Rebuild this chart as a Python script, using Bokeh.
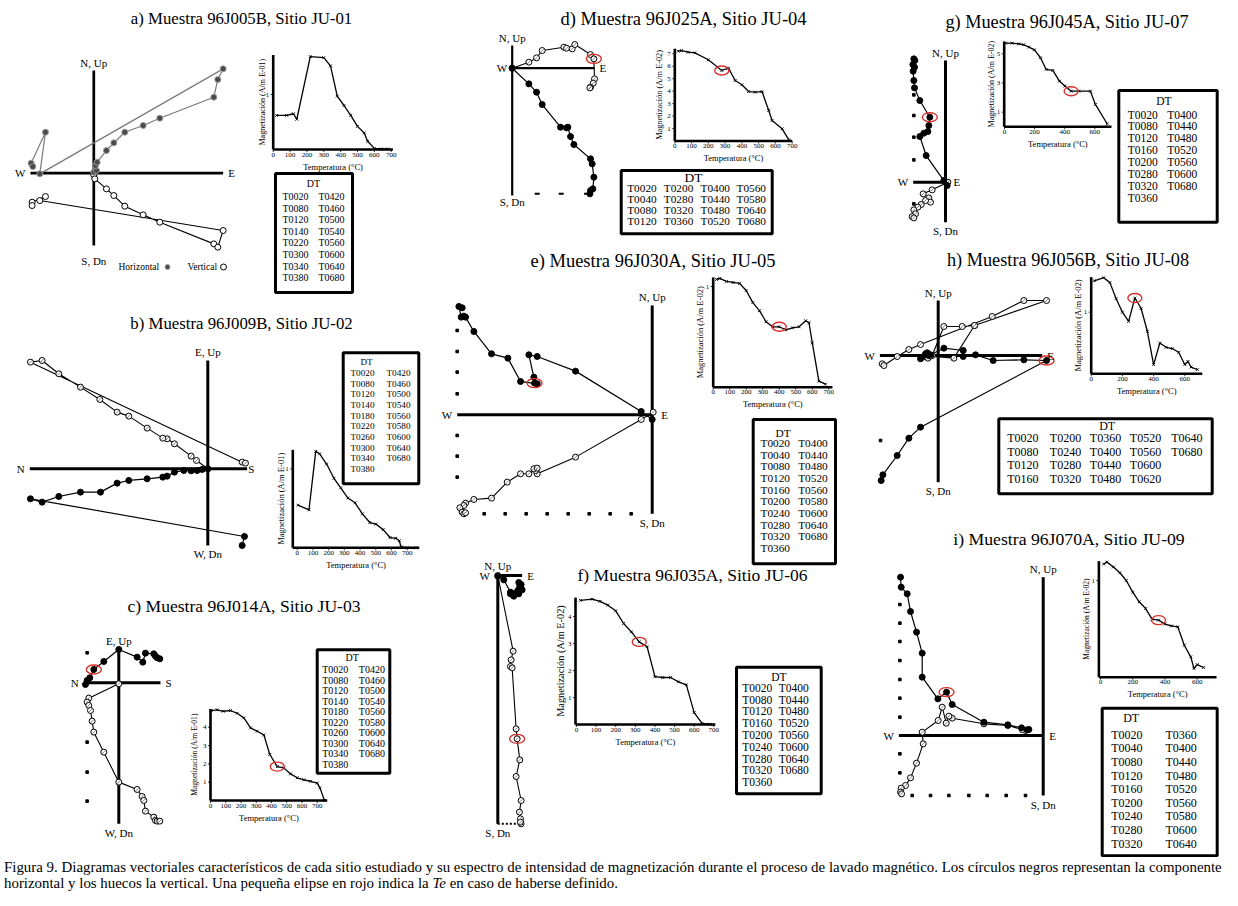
import math
from bokeh.plotting import figure
from bokeh.models import Range1d, Div
from bokeh.layouts import column
from bokeh.core.properties import value
from bokeh.embed import file_html
from bokeh.resources import INLINE

SERIF = "Liberation Serif"
RED = "#d8312b"

# ============================ DATA ============================
TITLES = {
    "a": "a) Muestra 96J005B, Sitio JU-01",
    "b": "b) Muestra 96J009B, Sitio JU-02",
    "c": "c) Muestra 96J014A, Sitio JU-03",
    "d": "d) Muestra 96J025A, Sitio JU-04",
    "e": "e) Muestra 96J030A, Sitio JU-05",
    "f": "f) Muestra 96J035A, Sitio JU-06",
    "g": "g) Muestra 96J045A, Sitio JU-07",
    "h": "h) Muestra 96J056B, Sitio JU-08",
    "i": "i) Muestra 96J070A, Sitio JU-09",
}

# demagnetisation steps (DT tables)
DT_A = [20, 80, 120, 140, 220, 300, 340, 380, 420, 460, 500, 540, 560, 600, 640, 680]
DT_B = [20, 80, 120, 140, 180, 220, 260, 300, 340, 380, 420, 460, 500, 540, 560, 580, 600, 640, 680]
DT_C = [20, 80, 120, 140, 180, 220, 260, 300, 340, 380, 420, 460, 500, 540, 560, 580, 600, 640, 680]
DT_D = [20, 40, 80, 120, 200, 280, 320, 360, 400, 440, 480, 520, 560, 580, 640, 680]
DT_E = [20, 40, 80, 120, 160, 200, 240, 280, 320, 360, 400, 440, 480, 520, 560, 580, 600, 640, 680]
DT_F = [20, 80, 120, 160, 200, 240, 280, 320, 360, 400, 440, 480, 520, 560, 600, 640, 680]
DT_G = [20, 80, 120, 160, 200, 280, 320, 360, 400, 440, 480, 520, 560, 600, 680]
DT_H = [20, 80, 120, 160, 200, 240, 280, 320, 360, 400, 440, 480, 520, 560, 600, 620, 640, 680]
DT_I = [20, 40, 80, 120, 160, 200, 240, 280, 320, 360, 400, 440, 480, 520, 560, 580, 600, 640]

# magnetisation intensity curves (temperature degC, intensity)
MT_A = DT_A
MM_A = [0.62, 0.62, 0.65, 0.55, 1.69, 1.67, 1.52, 0.97, 0.80, 0.62, 0.42, 0.30, 0.15, 0.02, 0.01, 0.01]
MT_B = [5, 75, 118, 143, 187, 234, 277, 323, 368, 415, 462, 500, 547, 591, 628, 649, 662, 702, 755]
MM_B = [0.54, 0.48, 1.22, 1.19, 1.06, 0.88, 0.76, 0.63, 0.57, 0.43, 0.32, 0.30, 0.23, 0.13, 0.12, 0.09, 0.01, 0.0, 0.0]
MT_C = [4, 44, 83, 131, 175, 219, 263, 306, 350, 389, 438, 481, 525, 569, 613, 656, 700, 718, 748]
MM_C = [4.91, 4.95, 4.87, 4.91, 4.76, 4.51, 3.96, 3.78, 3.58, 2.51, 1.85, 1.78, 1.45, 1.24, 1.13, 1.05, 0.95, 0.69, 0.0]
MT_D = DT_D
MM_D = [7.21, 7.26, 7.13, 7.08, 6.52, 5.66, 5.85, 4.86, 4.51, 3.97, 3.92, 3.97, 2.45, 1.65, 0.98, 0.09]
MT_E = DT_E
MM_E = [1.07, 1.08, 1.05, 1.04, 1.03, 0.96, 0.84, 0.76, 0.65, 0.60, 0.60, 0.57, 0.59, 0.60, 0.66, 0.64, 0.44, 0.06, 0.03]
MT_F = DT_F
MM_F = [4.60, 4.64, 4.56, 4.42, 4.21, 3.74, 3.43, 3.06, 2.88, 1.77, 1.74, 1.74, 1.58, 1.47, 0.44, 0.04, 0.01]
MT_G = [7, 51, 95, 128, 162, 199, 239, 277, 321, 365, 401, 443, 494, 571, 604, 682]
MM_G = [5.73, 5.73, 5.68, 5.62, 5.46, 5.27, 4.73, 3.93, 3.86, 3.13, 2.79, 2.44, 2.44, 2.44, 1.53, 0.21]
MT_H = DT_H
MM_H = [1.51, 1.56, 1.48, 1.22, 1.00, 0.85, 1.23, 1.06, 0.69, 0.15, 0.50, 0.43, 0.41, 0.35, 0.15, 0.20, 0.11, 0.07]
MT_I = DT_I
MM_I = [1.17, 1.19, 1.14, 1.08, 1.00, 0.88, 0.78, 0.71, 0.60, 0.59, 0.55, 0.53, 0.52, 0.33, 0.21, 0.09, 0.13, 0.10]
# index of the Te step on each intensity curve (None = not defined)
MTE = {"a": None, "b": None, "c": 10, "d": 5, "e": 10, "f": 7, "g": 11, "h": 6, "i": 9}

# vector (Zijderveld) end-points, arbitrary units; H = horizontal (filled), V = vertical (open)
ZHX_A = [0, 8, 5, 10, 38, 60, 93, 148, 198, 360, 372, 388, -162, -145, -188, -183]
ZHY_A = [3, 8, 23, 33, 68, 91, 123, 143, 165, 228, 281, 313, -2, 123, 30, 20]
ZVX_A = [0, 3, 38, 60, 93, 148, 198, 360, 372, 388, -162, -145, -185, -185]
ZVY_A = [-5, -17, -47, -67, -99, -125, -147, -212, -222, -172, -82, -70, -87, -97]

ZHX_B = [0, -17, -32, -50, -72, -100, -122, -135, -182, -237, -272, -322, -382, -447, -497, -532, 110, 103]
ZHY_B = [0, -2, -5, -6, -5, -10, -22, -25, -30, -35, -43, -70, -70, -83, -100, -90, -203, -230]
ZVX_B = [0, -34, -50, -100, -122, -135, -182, -237, -272, -324, -382, -447, -497, -532, 103, 113]
ZVY_B = [0, 25, 38, 75, 90, 92, 122, 158, 170, 208, 245, 285, 325, 320, 20, 17]

ZHX_C = [-100, -95, -87, -75, -45, 0, 55, 72, 80, 105, 110, 115, 123]
ZHY_C = [-5, 7, 15, 40, 64, 100, 77, 62, 89, 87, 80, 75, 72]
ZVX_C = [0, -90, -95, -90, -85, -80, -75, -45, 0, 55, 70, 75, 80, 105, 110, 115, 123]
ZVY_C = [-3, -46, -58, -68, -83, -115, -148, -208, -298, -320, -341, -353, -385, -403, -413, -415, -415]

ZHX_D = [0, 50, 73, 90, 145, 163, 167, 175, 185, 235, 240, 245, 242, 235, 233]
ZHY_D = [0, -47, -72, -109, -177, -179, -177, -205, -229, -272, -287, -327, -362, -367, -377]
ZVX_D = [0, 50, 73, 90, 155, 163, 180, 188, 235, 245, 247, 243, 235, 233]
ZVY_D = [0, 18, 31, 53, 63, 60, 58, 71, 41, 28, -32, -45, -57, -59]

ZHX_E = [0, -33, -230, -345, -370, -355, -353, -345, -395, -433, -482, -535, -560, -565, -573, -580, -570]
ZHY_E = [-14, 10, 131, 175, 180, 113, 95, 93, 100, 170, 183, 250, 293, 296, 293, 325, 321]
ZVX_E = [3, -33, -230, -345, -350, -355, -345, -370, -395, -435, -482, -535, -560, -565, -577, -570, -565, -560]
ZVY_E = [8, -14, -127, -177, -167, -162, -160, -177, -177, -202, -250, -254, -265, -272, -279, -292, -297, -294]

ZHX_F = [0, 18, 38, 46, 53, 60, 66, 63, 70, 73, 63, 48, 38]
ZHY_F = [-2, -13, -50, -58, -53, -45, -33, -21, -27, -43, -55, -62, -55]
ZVX_F = [0, 46, 40, 38, 43, 55, 58, 66, 55, 70, 65, 68, 70, 68]
ZVY_F = [0, -227, -253, -273, -277, -460, -490, -553, -603, -675, -710, -730, -745, -740]

ZHX_G = [5, -5, -58, -77, -65, -53, -50, -47, -77, -93, -95, -97, -93, -98, -92, -95]
ZHY_G = [-10, 5, 80, 137, 147, 152, 170, 195, 245, 283, 305, 333, 345, 353, 365, 370]
ZVX_G = [7, -40, -67, -50, -45, -60, -73, -83, -95, -90, -100, -95]
ZVY_G = [0, -23, -35, -47, -60, -55, -67, -75, -83, -95, -103, -107]

ZHX_H = [-53, -48, -38, -33, -28, -23, 17, 75, 75, 112, 165, 257, 325, -53, -88, -123, -166, -171]
ZHY_H = [-10, -5, 5, 8, 0, 2, 22, 15, -3, 2, -15, -13, -15, -215, -248, -300, -358, -375]
ZVX_H = [-168, -163, -123, -88, -53, 162, 257, 325, 109, 72, 17, -18, -31, -23, 47, 109]
ZVY_H = [-25, -30, -3, 18, 33, 117, 165, 165, 90, 87, 87, 0, -8, -2, -8, 90]

ZHX_I = [-43, -48, -65, -106, -178, -273, -290, -316, -363, -363, -380, -398, -408, -426, -428]
ZHY_I = [18, 17, 23, 32, 40, 93, 130, 110, 175, 247, 310, 372, 425, 445, 475]
ZVX_I = [-53, -63, -106, -178, -273, -283, -291, -303, -315, -363, -360, -380, -398, -413, -426, -428, -425]
ZVY_I = [15, 18, 30, 35, 52, 58, 37, 85, 45, 10, -25, -83, -127, -150, -158, -170, -175]
# Te step on the vector diagrams: (projection, index)
ZTE = {"a": None, "b": None, "c": ("h", 3), "d": ("v", 9), "e": ("h", 6),
       "f": ("v", 6), "g": ("h", 7), "h": ("h", 12), "i": ("h", 6)}

# axis tick labels of the intensity plots
XT_100 = [0, 100, 200, 300, 400, 500, 600, 700]
XT_200 = [0, 200, 400, 600]
YT = {"a": [1], "b": [1], "c": [1, 2, 3, 4], "d": [1, 2, 3, 4, 5, 6, 7], "e": [1],
      "f": [1, 2, 3, 4], "g": [1, 3, 5], "h": [1], "i": [1]}
UNITS = {"a": "E-01", "b": "E-01", "c": "E-01", "d": "E-02", "e": "E-02",
         "f": "E-02", "g": "E-02", "h": "E-02", "i": "E-02"}

CAPTION_1 = ("Figura 9. Diagramas vectoriales característicos de cada sitio estudiado y su espectro de "
             "intensidad de magnetización durante el proceso de lavado magnético. Los círculos negros "
             "representan la componente")
CAPTION_2A = "horizontal y los huecos la vertical. Una pequeña elipse en rojo indica la "
CAPTION_2B = "Te"
CAPTION_2C = " en caso de haberse definido."

ZIJ = {
    "a": dict(hx=ZHX_A, hy=ZHY_A, vx=ZVX_A, vy=ZVY_A),
    "b": dict(hx=ZHX_B, hy=ZHY_B, vx=ZVX_B, vy=ZVY_B),
    "c": dict(hx=ZHX_C, hy=ZHY_C, vx=ZVX_C, vy=ZVY_C),
    "d": dict(hx=ZHX_D, hy=ZHY_D, vx=ZVX_D, vy=ZVY_D),
    "e": dict(hx=ZHX_E, hy=ZHY_E, vx=ZVX_E, vy=ZVY_E),
    "f": dict(hx=ZHX_F, hy=ZHY_F, vx=ZVX_F, vy=ZVY_F),
    "g": dict(hx=ZHX_G, hy=ZHY_G, vx=ZVX_G, vy=ZVY_G),
    "h": dict(hx=ZHX_H, hy=ZHY_H, vx=ZVX_H, vy=ZVY_H),
    "i": dict(hx=ZHX_I, hy=ZHY_I, vx=ZVX_I, vy=ZVY_I),
}
MAG = {"a": (MT_A, MM_A), "b": (MT_B, MM_B), "c": (MT_C, MM_C), "d": (MT_D, MM_D),
       "e": (MT_E, MM_E), "f": (MT_F, MM_F), "g": (MT_G, MM_G), "h": (MT_H, MM_H),
       "i": (MT_I, MM_I)}
DT = {"a": DT_A, "b": DT_B, "c": DT_C, "d": DT_D, "e": DT_E, "f": DT_F, "g": DT_G,
      "h": DT_H, "i": DT_I}

# ============================ LAYOUT (page pixels) ============================
W, H = 1230, 857
X0, Y0 = 0, 0          # page coords == reference image coords

TITLE_POS = {"a": (241, 18, 16.8), "b": (241, 323, 16.8), "c": (243.5, 605, 17.6),
             "d": (683, 18, 18.5), "e": (652.5, 260, 18.5), "f": (692, 574, 17.5),
             "g": (1066.5, 21, 18.3), "h": (1067.5, 259, 18.3), "i": (1068.5, 538, 17.7)}

ZIJ_LAYOUT = {
    "a": dict(origin=(93.3, 172.7), hx=(-190, 388), vy=(-217, 308),
              labels=("N, Up", "S, Dn", "W", "E"), aw=2.7, boff=9, gray=True),
    "b": dict(origin=(207.3, 468.3), hx=(-534, 118), vy=(-230, 325),
              labels=("E, Up", "W, Dn", "N", "S"), roff=1),
    "c": dict(origin=(118.3, 682.3), hx=(-105, 125), vy=(-423, 102),
              labels=("E, Up", "W, Dn", "N", "S"),
              dots=([-95, -95, -95, -95], [90, -178, -268, -355])),
    "d": dict(origin=(511.7, 67.7), hx=(0, 247), vy=(-382, 68), aw=2.2,
              labels=("N, Up", "S, Dn", "W", "E"), boff=0,
              dashes=([75, 147, 223], [-377, -377, -377])),
    "e": dict(origin=(651.7, 414.3), hx=(-585, 3), vy=(-297, 328),
              labels=("N, Up", "S, Dn", "W", "E"), roff=8,
              dots=([-585] * 7 + [-63, -126, -189, -252, -315, -378, -441, -504, -567],
                    [253, 190, 128, 63, -62, -124, -187] + [-297] * 9)),
    "f": dict(origin=(497.3, 575.0), hx=(0, 73), vy=(-745, 0),
              labels=("N, Up", "S, Dn", "W", "E"), loff=-8, toff=-4,
              dotted=((0, -745), (70, -745))),
    "g": dict(origin=(945.0, 181.7), hx=(-97, 0), vy=(-120, 365),
              labels=("N, Up", "S, Dn", "W", "E"), roff=8,
              dots=([-95] * 5, [262, 200, 135, 67, -65])),
    "h": dict(origin=(937.7, 355.0), hx=(-175, 312), vy=(-380, 165),
              labels=("N, Up", "S, Dn", "W", "E"),
              dots=([-173], [-255])),
    "i": dict(origin=(1042.7, 735.0), hx=(-433, 0), vy=(-180, 475),
              labels=("N, Up", "S, Dn", "W", "E"), roff=6,
              dots=([-430] * 9 + [-393, -338, -283, -223, -168, -111, -53],
                    [393, 337, 282, 225, 168, 112, 55, -55, -112] + [-180] * 7)),
}

MAG_LAYOUT = {
    "a": dict(tmap=((0, 272.7), (700, 390.7)), mmap=((0, 149.0), (1, 94.0)), xlim=(0, 710),
              ytop=1.72, xt=XT_100, yoff=-11, yfs=8.0),
    "b": dict(tmap=((0, 296.7), (700, 406.7)), mmap=((0, 547.3), (1, 468.3)), xlim=(-28, 777),
              ytop=1.24, xt=XT_100, yoff=-12, yfs=8.5),
    "c": dict(tmap=((0, 210.0), (700, 316.7)), mmap=((0, 800.0), (4, 726.7)), xlim=(0, 766),
              ytop=5.0, xt=XT_100, yoff=-16, yfs=7.6),
    "d": dict(tmap=((0, 674.3), (700, 791.7)), mmap=((0, 140.5), (7, 53.3)), xlim=(0, 700),
              ytop=7.4, xt=XT_100, yoff=-15, yfs=8.3),
    "e": dict(tmap=((0, 712.7), (700, 828.3)), mmap=((0, 386.7), (1, 286.0)), xlim=(0, 722),
              ytop=1.09, xt=XT_100, yoff=-13, yfs=8.5),
    "f": dict(tmap=((0, 576.0), (700, 713.3)), mmap=((0, 724.0), (4, 616.0)), xlim=(-5, 708),
              ytop=4.7, xt=XT_100, yoff=-15, yfs=10.3),
    "g": dict(tmap=((0, 1004.0), (600, 1094.3)), mmap=((0, 126.3), (5, 53.3)), xlim=(-2, 711),
              ytop=5.84, xt=XT_200, yoff=-13, yfs=8.0),
    "h": dict(tmap=((0, 1090.7), (600, 1184.3)), mmap=((0, 373.3), (1, 311.7)), xlim=(0, 712),
              ytop=1.57, xt=XT_200, yoff=-13, yfs=8.5),
    "i": dict(tmap=((0, 1100.0), (600, 1196.7)), mmap=((0, 676.7), (1, 580.0)), xlim=(-10, 720),
              ytop=1.2, xt=XT_200, yoff=-12, yfs=7.5),
}

TABLE_LAYOUT = {
    "a": dict(box=(275, 352, 173, 292), dt=(313, 183), row0=196, dy=11.6, cols=[282, 318], nrows=8, fs=10),
    "b": dict(box=(342.7, 418.3, 352.3, 483.3), dt=(366, 361.7), row0=372.3, dy=10.7, cols=[350, 386], nrows=10, fs=9.2),
    "c": dict(box=(316.7, 389.3, 649.3, 772.7), dt=(351.7, 656.7), row0=669, dy=10.5, cols=[321.7, 358.3], nrows=10, fs=10),
    "d": dict(box=(620.7, 771.7, 170, 233.3), dt=(693, 176.7), row0=187.3, dy=10.9,
              cols=[626.7, 663.3, 700, 736], nrows=4, fs=11.3, dtfs=13.5),
    "e": dict(box=(752.7, 835, 419, 563.3), dt=(782.5, 432.7), row0=442.3, dy=11.7, cols=[760, 797.7], nrows=10, fs=11.3),
    "f": dict(box=(736, 820.7, 666.7, 793.3), dt=(778.3, 676.7), row0=687.3, dy=11.8, cols=[741.7, 778.3], nrows=9, fs=11.5),
    "g": dict(box=(1118.3, 1216.7, 90, 221.7), dt=(1163.3, 100), row0=114, dy=11.9, cols=[1127.3, 1166.7], nrows=8, fs=11.5),
    "h": dict(box=(998.3, 1211.7, 418.3, 493.3), dt=(1106.7, 425), row0=437.7, dy=13.5,
              cols=[1006.7, 1049.3, 1089.3, 1129.3, 1170.7], nrows=4, fs=12),
    "i": dict(box=(1101.7, 1216.7, 707.7, 855.3), dt=(1130.7, 717.7), row0=734.3, dy=13.6, cols=[1110.7, 1165], nrows=9, fs=12),
}

LEGEND_A = dict(y=266.5, htext=118, hmark=167, vtext=187, vmark=223, fs=9.5)

# ============================ DRAWING ============================
p = figure(width=W, height=H, x_range=Range1d(X0, X0 + W), y_range=Range1d(Y0 + H, Y0),
           output_backend="svg", toolbar_location=None, x_axis_location=None,
           y_axis_location=None, min_border=0)
p.grid.visible = False
p.outline_line_color = None
p.background_fill_color = "white"
p.border_fill_color = "white"

XR, YR = {}, {}


def scales(name, xa, xb, ya, yb):
    """Sub-plot scale: data value xa[0] lands on page x xa[1], etc."""
    kx = (xb[1] - xa[1]) / (xb[0] - xa[0])
    ky = (ya[1] - yb[1]) / (yb[0] - ya[0])
    XR[name] = Range1d(start=xa[0] + (X0 - xa[1]) / kx, end=xa[0] + (X0 + W - xa[1]) / kx)
    YR[name] = Range1d(start=ya[0] - (Y0 + H - ya[1]) / ky, end=ya[0] + (ya[1] - Y0) / ky)
    return kx, ky, dict(x_range_name=name, y_range_name=name)


def txt(xs, ys, texts, size, align="center", baseline="middle", kw=None, **extra):
    p.text(x=xs, y=ys, text=texts, text_font=value(SERIF), text_font_size=f"{size}px",
           text_align=align, text_baseline=baseline, text_color="black", **(kw or {}), **extra)


def draw_zij(key):
    L, D = ZIJ_LAYOUT[key], ZIJ[key]
    ox, oy = L["origin"]
    kx, ky, kw = scales("z" + key, (0, ox), (3, ox + 1), (0, oy), (3, oy - 1))
    hx0, hx1 = L["hx"]
    vy0, vy1 = L["vy"]
    p.segment(x0=[hx0, 0], y0=[0, vy0], x1=[hx1, 0], y1=[0, vy1], line_color="black",
              line_width=L.get("aw", 3.0), line_cap="butt", **kw)
    if "dots" in L:
        p.scatter(x=L["dots"][0], y=L["dots"][1], marker="square", size=2.6, color="black", **kw)
    if "dashes" in L:
        p.scatter(x=L["dashes"][0], y=L["dashes"][1], marker="dash", size=5, line_width=2,
                  color="black", **kw)
    if "dotted" in L:
        (a0, b0), (a1, b1) = L["dotted"]
        p.segment(x0=[a0], y0=[b0], x1=[a1], y1=[b1], line_dash="2 2", line_width=2,
                  line_color="black", **kw)
    gray = L.get("gray", False)
    p.line(D["vx"], D["vy"], line_color="black", line_width=1.1, **kw)
    p.line(D["hx"], D["hy"], line_color="#7a7a7a" if gray else "black", line_width=1.2, **kw)
    p.scatter(D["vx"], D["vy"], marker="circle", size=6, fill_color="white",
              line_color="black", line_width=1, **kw)
    if not gray:
        # the hollow symbols of the original carry a small diagonal stroke
        p.scatter(D["vx"], D["vy"], marker="dash", angle=math.pi / 4, size=5,
                  line_color="#555555", line_width=0.7, **kw)
    p.scatter(D["hx"], D["hy"], marker="circle", size=6,
              fill_color="#4a4a4a" if gray else "black",
              line_color="#9a9a9a" if gray else "black", line_width=1, **kw)
    te = ZTE[key]
    if te is not None:
        comp, idx = te
        p.ellipse(x=[D[comp + "x"][idx]], y=[D[comp + "y"][idx]], width=15, height=9,
                  width_units="screen", height_units="screen", fill_color=None,
                  line_color=RED, line_width=1.4, **kw)
    top, bottom, left, right = L["labels"]
    fs = 11
    txt([0], [vy1], [top], fs, "center", "bottom", kw, y_offset=L.get("toff", -2))
    txt([0], [vy0], [bottom], fs, "center", "top", kw, y_offset=L.get("boff", 3))
    txt([hx0], [0], [left], fs, "right", "middle", kw, x_offset=L.get("loff", -5))
    txt([hx1], [0], [right], fs, "left", "middle", kw, x_offset=L.get("roff", 5))


def draw_mag(key):
    L = MAG_LAYOUT[key]
    T, M = MAG[key]
    kx, ky, kw = scales("m" + key, L["tmap"][0], L["tmap"][1], L["mmap"][0], L["mmap"][1])
    xa, xb = L["xlim"]
    yt = L["ytop"]
    yticks, xticks = YT[key], L["xt"]
    p.segment(x0=[xa, xa], y0=[0, 0], x1=[xb, xa], y1=[0, yt], line_color="black",
              line_width=2.6, line_cap="butt", **kw)
    tl = 2.5
    p.segment(x0=[xa - tl / kx] * len(yticks), y0=yticks, x1=[xa] * len(yticks), y1=yticks,
              line_color="black", line_width=0.8, **kw)
    p.segment(x0=xticks, y0=[0] * len(xticks), x1=xticks, y1=[-tl / ky] * len(xticks),
              line_color="black", line_width=0.8, **kw)
    txt([xa] * len(yticks), yticks, [str(v) for v in yticks], 7, "right", "middle", kw, x_offset=-4)
    txt(xticks, [0] * len(xticks), [str(v) for v in xticks], 7, "center", "top", kw, y_offset=3)
    txt([(xa + xb) / 2], [0], ["Temperatura (°C)"], 8.5, "center", "top", kw, y_offset=12)
    txt([xa], [yt / 2], [f"Magnetización (A/m {UNITS[key]})"], L["yfs"], "center", "middle", kw,
        x_offset=L["yoff"], angle=math.pi / 2)
    p.line(T, M, line_color="black", line_width=1.3, **kw)
    p.scatter(T, M, marker="x", size=4, line_color="black", line_width=0.9, **kw)
    idx = MTE[key]
    if idx is not None:
        p.ellipse(x=[T[idx]], y=[M[idx]], width=14, height=9, width_units="screen",
                  height_units="screen", fill_color=None, line_color=RED, line_width=1.4, **kw)


def draw_table(key):
    L = TABLE_LAYOUT[key]
    labels = ["T%04d" % t for t in DT[key]]
    n = L["nrows"]
    xs, ys, tx = [], [], []
    for i, lab in enumerate(labels):
        xs.append(L["cols"][i // n])
        ys.append(L["row0"] + (i % n) * L["dy"])
        tx.append(lab)
    txt(xs, ys, tx, L["fs"], "left", "middle")
    txt([L["dt"][0]], [L["dt"][1]], ["DT"], L.get("dtfs", L["fs"]), "center", "middle")
    l, r, t, b = L["box"]
    p.quad(left=[l], right=[r], top=[t], bottom=[b], fill_color=None, line_color="black",
           line_width=3)


for k in "abcdefghi":
    cx, cy, fs = TITLE_POS[k]
    txt([cx], [cy], [TITLES[k]], fs, "center", "middle")
    draw_zij(k)
    draw_mag(k)
    draw_table(k)

# legend of panel a
Lg = LEGEND_A
txt([Lg["htext"]], [Lg["y"]], ["Horizontal"], Lg["fs"], "left", "middle")
txt([Lg["vtext"]], [Lg["y"]], ["Vertical"], Lg["fs"], "left", "middle")
p.scatter(x=[Lg["hmark"]], y=[Lg["y"]], marker="circle", size=5, fill_color="#4a4a4a",
          line_color="#9a9a9a")
p.scatter(x=[Lg["vmark"]], y=[Lg["y"]], marker="circle", size=6, fill_color="white",
          line_color="black")

p.extra_x_ranges = XR
p.extra_y_ranges = YR

caption = Div(
    text=(f'<div style="font-family:\'{SERIF}\';font-size:14.9px;line-height:16px;'
          f'white-space:nowrap;color:#000;margin:0;padding:2px 0 0 4px">{CAPTION_1}<br>'
          f'{CAPTION_2A}<i>{CAPTION_2B}</i>{CAPTION_2C}</div>'),
    width=W, height=45, margin=(0, 0, 0, 0))

layout = column(p, caption, spacing=0)
open("out.html", "w").write(file_html(layout, INLINE))
